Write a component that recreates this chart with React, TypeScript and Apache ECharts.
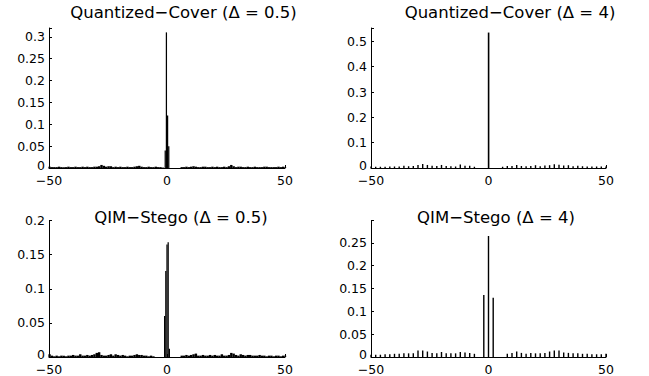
import React, { useEffect, useRef } from "react";
import * as echarts from "echarts";

// ---- Data ----
const titles = [
  "Quantized\u2212Cover (\u0394 = 0.5)",
  "Quantized\u2212Cover (\u0394 = 4)",
  "QIM\u2212Stego (\u0394 = 0.5)",
  "QIM\u2212Stego (\u0394 = 4)",
];
const xTicks = [-50, 0, 50];

// Top-left: Quantized cover, delta = 0.5 (bins of 1 in the tails, 0.5 at centre)
const tlLeftStart = -50;
const tlLeft = [
  0.003, 0.002, 0.002, 0.002, 0.003, 0.002, 0.002, 0.002, 0.003, 0.002,
  0.002, 0.003, 0.002, 0.002, 0.003, 0.002, 0.003, 0.002, 0.002, 0.003,
  0.003, 0.004, 0.007, 0.005, 0.003, 0.004, 0.004, 0.002, 0.003, 0.002,
  0.003, 0.002, 0.002, 0.003, 0.002, 0.002, 0.003, 0.004, 0.005, 0.003,
  0.002, 0.002, 0.003, 0.002, 0.002, 0.003, 0.002, 0.002, 0.001,
];
const tlRightStart = 6;
const tlRight = [
  0.002, 0.002, 0.003, 0.002, 0.003, 0.004, 0.003, 0.002, 0.002, 0.003,
  0.003, 0.002, 0.002, 0.003, 0.002, 0.003, 0.002, 0.002, 0.003, 0.002,
  0.004, 0.007, 0.004, 0.002, 0.003, 0.003, 0.002, 0.002, 0.003, 0.002,
  0.002, 0.003, 0.002, 0.002, 0.002, 0.003, 0.003, 0.002, 0.002, 0.002,
  0.002, 0.003, 0.002, 0.003, 0.002,
];
const tlCenterX = [-0.75, -0.25, 0.25, 0.75];
const tlCenter = [0.04, 0.31, 0.12, 0.05];

// Bottom-left: QIM stego, delta = 0.5
const blLeftStart = -50;
const blLeft = [
  0.004, 0.002, 0.001, 0.002, 0.001, 0.002, 0.002, 0.001, 0.002, 0.002,
  0.003, 0.002, 0.002, 0.004, 0.002, 0.002, 0.003, 0.002, 0.003, 0.004,
  0.006, 0.007, 0.003, 0.002, 0.002, 0.003, 0.004, 0.002, 0.004, 0.003,
  0.002, 0.003, 0.002, 0.001, 0.002, 0.002, 0.003, 0.004, 0.003, 0.003,
  0.002, 0.002, 0.001, 0.002, 0.001,
];
const blRightStart = 6;
const blRight = [
  0.002, 0.002, 0.003, 0.002, 0.003, 0.004, 0.005, 0.002, 0.002, 0.003,
  0.002, 0.002, 0.003, 0.002, 0.003, 0.002, 0.002, 0.004, 0.002, 0.002,
  0.003, 0.006, 0.005, 0.003, 0.002, 0.004, 0.003, 0.002, 0.003, 0.003,
  0.002, 0.002, 0.002, 0.003, 0.002, 0.002, 0.001, 0.002, 0.002, 0.001,
  0.002, 0.002, 0.001, 0.002, 0.002,
];
const blCenterX = [-1.0, -0.5, 0, 0.5, 1.0];
const blCenter = [0.06, 0.126, 0.165, 0.168, 0.012];

// Top-right: Quantized cover, delta = 4 (bins of 2)
const trLeftX = [-50, -48, -46, -44, -42, -40, -38, -36, -34, -32, -30, -28, -26, -24, -22, -20, -18, -16, -14, -12, -10, -8, -6];
const trLeft = [0.006, 0.005, 0.005, 0.005, 0.006, 0.006, 0.006, 0.009, 0.007, 0.008, 0.012, 0.016, 0.012, 0.009, 0.008, 0.012, 0.008, 0.007, 0.006, 0.014, 0.009, 0.009, 0.005];
const trCenterX = [0];
const trCenter = [0.535];
const trRightX = [6, 8, 10, 12, 14, 16, 18, 20, 22, 24, 26, 28, 30, 32, 34, 36, 38, 40, 42, 44, 46, 48, 50];
const trRight = [0.005, 0.008, 0.008, 0.012, 0.008, 0.007, 0.008, 0.011, 0.007, 0.01, 0.011, 0.015, 0.013, 0.01, 0.011, 0.007, 0.009, 0.007, 0.006, 0.006, 0.006, 0.006, 0.006];

// Bottom-right: QIM stego, delta = 4
const brLeftX = [-50, -48, -46, -44, -42, -40, -38, -36, -34, -32, -30, -28, -26, -24, -22, -20, -18, -16, -14, -12, -10, -8, -6];
const brLeft = [0.005, 0.005, 0.005, 0.006, 0.006, 0.007, 0.007, 0.008, 0.008, 0.008, 0.014, 0.014, 0.012, 0.009, 0.008, 0.011, 0.008, 0.008, 0.008, 0.011, 0.01, 0.009, 0.007];
const brCenterX = [-2, 0, 2];
const brCenter = [0.136, 0.265, 0.13];
const brRightX = [8, 10, 12, 14, 16, 18, 20, 22, 24, 26, 28, 30, 32, 34, 36, 38, 40, 42, 44, 46, 48, 50];
const brRight = [0.007, 0.009, 0.012, 0.009, 0.007, 0.009, 0.008, 0.008, 0.009, 0.012, 0.014, 0.014, 0.01, 0.009, 0.008, 0.008, 0.007, 0.007, 0.006, 0.006, 0.006, 0.007];

// y-axis limits and tick steps
const yMax = [0.32, 0.553, 0.2, 0.299];
const yStep = [0.05, 0.1, 0.05, 0.05];

const FONT = "DejaVu Sans";

function seq(start: number, step: number, vals: number[]): number[][] {
  return vals.map((v, i) => [start + i * step, v]);
}
function pairs(xs: number[], vals: number[]): number[][] {
  return vals.map((v, i) => [xs[i], v]);
}

export default function App() {
  const ref = useRef<HTMLDivElement>(null);
  useEffect(() => {
    if (!ref.current) return;
    const chart = echarts.init(ref.current, undefined, { renderer: "svg" });

    const grids = [
      { left: 49, top: 28, width: 236, height: 140 },
      { left: 371, top: 28, width: 235, height: 140 },
      { left: 49, top: 220.5, width: 236, height: 140 },
      { left: 371, top: 220.5, width: 235, height: 140 },
    ];
    const titlePos = [
      { x: 183.5, y: 4 },
      { x: 510, y: 4 },
      { x: 181, y: 209 },
      { x: 496, y: 209 },
    ];

    const axisLine = { show: true, onZero: false, lineStyle: { color: "#000", width: 1 } };
    const xAxes = grids.map((_, i) => ({
      type: "value",
      gridIndex: i,
      min: -50,
      max: 50,
      interval: 50,
      splitLine: { show: false },
      axisLine,
      axisTick: { show: true, inside: true, length: 3, lineStyle: { color: "#000" } },
      axisLabel: {
        color: "#000",
        fontFamily: FONT,
        fontSize: 12.5,
        lineHeight: 10,
        margin: 7.5,
        formatter: (v: number) => (xTicks.includes(v) ? (v < 0 ? "\u2212" + Math.abs(v) : String(v)) : ""),
      },
    }));
    const yAxes = grids.map((_, i) => ({
      type: "value",
      gridIndex: i,
      min: 0,
      max: yMax[i],
      interval: yStep[i],
      splitLine: { show: false },
      axisLine,
      axisTick: { show: true, inside: true, length: 3, lineStyle: { color: "#000" } },
      axisLabel: {
        color: "#000",
        fontFamily: FONT,
        fontSize: 12.5,
        lineHeight: 10,
        margin: 4,
        rich: {
          z: { fontFamily: FONT, fontSize: 12.5, color: "#000", lineHeight: 10, padding: [0, 0, 5, 0] },
        },
        formatter: (v: number) => {
          const k = v / yStep[i];
          if (Math.abs(k - Math.round(k)) > 1e-6) return "";
          if (v === 0) return "{z|0}";
          return String(Math.round(v * 1000) / 1000);
        },
      },
    }));

    const bar = (i: number, data: number[][], w: number) => ({
      type: "bar",
      xAxisIndex: i,
      yAxisIndex: i,
      data,
      barWidth: w,
      barGap: "-100%",
      itemStyle: { color: "#000" },
      silent: true,
    });

    const series = [
      bar(0, seq(tlLeftStart, 1, tlLeft), 2.4),
      bar(0, seq(tlRightStart, 1, tlRight), 2.4),
      bar(0, pairs(tlCenterX, tlCenter), 1.25),
      bar(1, pairs(trLeftX, trLeft), 1.4),
      bar(1, pairs(trCenterX, trCenter), 1.6),
      bar(1, pairs(trRightX, trRight), 1.4),
      bar(2, seq(blLeftStart, 1, blLeft), 2.4),
      bar(2, seq(blRightStart, 1, blRight), 2.4),
      bar(2, pairs(blCenterX, blCenter), 1.25),
      bar(3, pairs(brLeftX, brLeft), 1.4),
      bar(3, pairs(brCenterX, brCenter), 1.4),
      bar(3, pairs(brRightX, brRight), 1.4),
    ];

    chart.setOption({
      animation: false,
      backgroundColor: "#fff",
      title: titles.map((t, i) => ({
        text: t,
        left: titlePos[i].x,
        top: titlePos[i].y,
        textAlign: "center",
        padding: 0,
        textStyle: { color: "#000", fontFamily: FONT, fontSize: 16.5, fontWeight: "normal" },
      })),
      grid: grids,
      xAxis: xAxes,
      yAxis: yAxes,
      series,
    });
    return () => chart.dispose();
  }, []);
  return (
    <div
      ref={ref}
      style={{ position: "absolute", left: 0, top: 0, width: 649, height: 376, background: "#fff" }}
    />
  );
}
